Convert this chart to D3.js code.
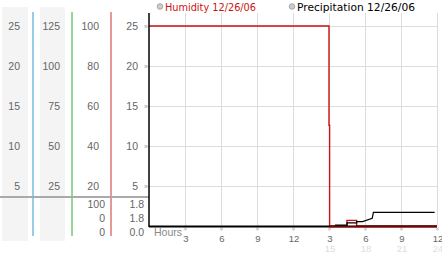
<!DOCTYPE html>
<html>
<head>
<meta charset="utf-8">
<script src="https://cdn.jsdelivr.net/npm/d3@7"></script>
<style>
  body { margin: 0; background: #fff; }
  svg { display: block; font-family: "Liberation Sans", Arial, sans-serif; }
</style>
</head>
<body>
<svg id="chart" width="442" height="253"></svg>
<script>
// axis columns on the left (each one a different unit)
const col1Ticks = [25, 20, 15, 10, 5];
const col2Ticks = [125, 100, 75, 50, 25];
const col3Ticks = [100, 80, 60, 40, 20];
const col4Ticks = [25, 20, 15, 10, 5];
const readoutGreen = ['100', '0', '0'];
const readoutRed = ['1.8', '1.8', '0.0'];

// x axis, hours of the day
const hourTicks = [3, 6, 9, 12, 15, 18, 21, 24];

// series
const humidityHours = [0, 15, 15, 15.05, 15.05, 16.5, 16.5, 17.3, 17.3, 24];
const humidityValues = [25, 25, 12.6, 12.6, 0, 0, 0.7, 0.7, 0, 0];
const precipHours = [15.5, 16.5, 16.5, 17.3, 17.3, 17.8, 18.6, 18.7, 23.8];
const precipValues = [0.12, 0.12, 0.4, 0.4, 0.55, 0.55, 0.95, 1.7, 1.7];

const svg = d3.select('#chart');
const x = d3.scaleLinear().domain([0, 24]).range([149, 437]);
const y = d3.scaleLinear().domain([0, 25]).range([226, 26]);
const plotTop = 13;

// gray bands behind the first two columns
[[2, 28], [40, 65]].forEach(b => {
  svg.append('rect').attr('x', b[0]).attr('y', 7).attr('width', b[1] - b[0]).attr('height', 234)
    .attr('fill', '#f4f4f4');
});

// colored column separators
[[33, '#3399cc'], [72, '#33aa33'], [111, '#cc3333']].forEach(c => {
  svg.append('line').attr('x1', c[0]).attr('x2', c[0]).attr('y1', 12).attr('y2', 236)
    .attr('stroke', c[1]).attr('stroke-width', 1);
});

// separator between scales and readouts
svg.append('line').attr('x1', 0).attr('x2', 149).attr('y1', 197).attr('y2', 197)
  .attr('stroke', '#aaa').attr('stroke-width', 2);

// grid
const grid = svg.append('g').attr('stroke', '#dcdcdc').attr('stroke-width', 1);
grid.selectAll('.vg').data(hourTicks).enter().append('line')
  .attr('x1', d => Math.round(x(d)) + 0.5).attr('x2', d => Math.round(x(d)) + 0.5)
  .attr('y1', plotTop).attr('y2', y(0));
grid.selectAll('.hg').data(col4Ticks).enter().append('line')
  .attr('x1', x(0)).attr('x2', x(24))
  .attr('y1', d => Math.round(y(d)) + 0.5).attr('y2', d => Math.round(y(d)) + 0.5);

// left tick columns
const labelStyle = sel => sel.attr('font-size', 10.5).attr('fill', '#666').attr('text-anchor', 'end');
function column(ticks, right) {
  svg.append('g').selectAll('text').data(ticks).enter().append('text')
    .attr('x', right).attr('y', (d, i) => y(col1Ticks[i]) + 4)
    .text(d => d).call(labelStyle);
}
column(col1Ticks, 20);
column(col2Ticks, 60);
column(col3Ticks, 99);
column(col4Ticks, 138);

// small tick marks next to the value axis
svg.append('g').selectAll('text').data(col4Ticks).enter().append('text')
  .attr('x', 146).attr('y', d => y(d) + 2.5)
  .attr('text-anchor', 'middle').attr('font-size', 7).attr('fill', '#999')
  .text('»');

// readouts under the separator
[readoutGreen, readoutRed].forEach((vals, k) => {
  svg.append('g').selectAll('text').data(vals).enter().append('text')
    .attr('x', k === 0 ? 105 : 144).attr('y', (d, i) => 208 + i * 14)
    .text(d => d).call(labelStyle);
});

// x axis labels
svg.append('text').attr('x', 154).attr('y', 236).attr('font-size', 10.5).attr('fill', '#888')
  .text('Hours');
const xt = svg.append('g').selectAll('g').data(hourTicks).enter().append('g')
  .attr('transform', d => `translate(${x(d) + 1},0)`);
xt.append('text').attr('y', 232).attr('text-anchor', 'middle').attr('font-size', 7).attr('fill', '#999')
  .attr('transform', 'rotate(90, 0, 229)').text('»');
xt.append('text').attr('y', 241.5).attr('text-anchor', 'middle').attr('font-size', 9.5).attr('fill', '#666')
  .text(d => d > 12 ? d - 12 : d);
xt.filter(d => d > 12).append('text').attr('y', 252).attr('text-anchor', 'middle')
  .attr('font-size', 9.5).attr('fill', '#ddd').text(d => d);

// series lines
const line = d3.line().x(d => x(d[0])).y(d => y(d[1]));
svg.append('path').datum(humidityHours.map((h, i) => [h, humidityValues[i]]))
  .attr('d', line).attr('fill', 'none').attr('stroke', '#cc1111').attr('stroke-width', 1.4);
svg.append('path').datum(precipHours.map((h, i) => [h, precipValues[i]]))
  .attr('d', line).attr('fill', 'none').attr('stroke', '#000').attr('stroke-width', 1.2);

// plot axes
svg.append('line').attr('x1', x(0)).attr('x2', x(0)).attr('y1', plotTop).attr('y2', y(0) + 1)
  .attr('stroke', '#000').attr('stroke-width', 1.5);
svg.append('line').attr('x1', x(0)).attr('x2', x(24)).attr('y1', y(0) + 0.5).attr('y2', y(0) + 0.5)
  .attr('stroke', '#000').attr('stroke-width', 2);
svg.append('line').attr('x1', x(15)).attr('x2', x(24)).attr('y1', y(0) + 1).attr('y2', y(0) + 1)
  .attr('stroke', '#cc1111').attr('stroke-width', 1);

// legend
const legend = [['Humidity 12/26/06', '#cc1111', 160, 91], ['Precipitation 12/26/06', '#000', 292, 118]];
legend.forEach(l => {
  svg.append('circle').attr('cx', l[2]).attr('cy', 6.5).attr('r', 2.8)
    .attr('fill', '#ccc').attr('stroke', '#999').attr('stroke-width', 0.8);
  svg.append('text').attr('x', l[2] + 5).attr('y', 10.5).attr('font-size', 10.5)
    .attr('font-family', '"DejaVu Sans", sans-serif').attr('fill', l[1])
    .attr('textLength', l[3]).attr('lengthAdjust', 'spacingAndGlyphs')
    .text(l[0]);
});
</script>
</body>
</html>
